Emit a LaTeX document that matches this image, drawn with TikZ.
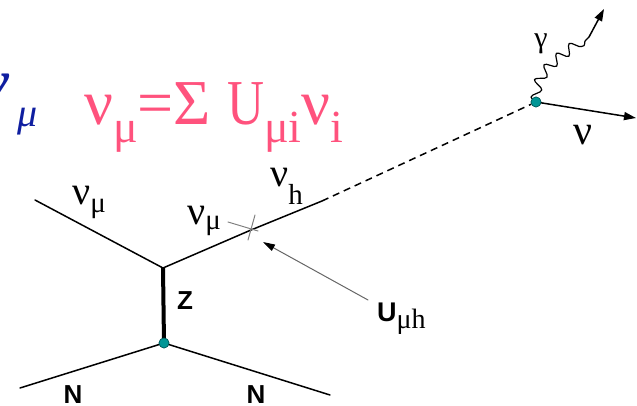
\documentclass[tikz,border=0pt]{standalone}
\usepackage{fontspec}
\usepackage{graphicx}
\setmainfont{Liberation Serif}
\setsansfont{Liberation Sans}
\usetikzlibrary{arrows.meta,decorations.pathmorphing}
\definecolor{Pink}{RGB}{255,82,125}
\definecolor{Navy}{RGB}{15,30,160}
\definecolor{Teal}{RGB}{0,150,150}
\definecolor{TealEdge}{RGB}{0,90,90}
\newcommand\fsz[1]{\fontsize{#1}{#1}\selectfont}
\newcommand\lowsub[3]{\raisebox{-#1pt}{\fsz{#2}#3}}

\begin{document}
\begin{tikzpicture}[x=1pt,y=-1pt,line cap=round,line join=round,
  fline/.style={line width=1.5pt},
  zline/.style={line width=4pt,line cap=butt},
  hline/.style={line width=1.5pt,dash pattern=on 7pt off 5pt,line cap=butt},
  xmark/.style={line width=1pt,gray},
  vdot/.style={circle,draw=TealEdge,fill=Teal,line width=0.6pt,minimum size=10pt,inner sep=0pt},
  lab/.style={font=\fsz{40},inner sep=0pt},
  slab/.style={font=\sffamily\bfseries\fsz{26},inner sep=0pt},
  tip/.style={-{Triangle[length=12pt,width=8pt]}},
  photon/.style={line width=1.2pt,decorate,decoration={snake,amplitude=5pt,segment length=16pt}}]
\path[use as bounding box] (0,0) rectangle (637,406);

% heading
\node[anchor=base east,inner sep=0pt,text=Navy,font=\itshape\bfseries\fsz{60}] (nublue) at (9,102) {ν};
\node[anchor=base west,inner sep=0pt,text=Navy,font=\itshape\fsz{40}] (mublue) at (17,127) {μ};
\node[anchor=base west,inner sep=0pt,text=Pink,font=\fsz{64}] (mix) at (84,125)
  {ν\lowsub{18}{46}{μ}=Σ \scalebox{0.8}[1]{U}\lowsub{18}{46}{μi}ν\lowsub{18}{46}{i}};

% points
\coordinate (nuin) at (35,200);
\coordinate (v1) at (163,268);
\coordinate (cross) at (251,230);
\coordinate (nuh) at (322,201);
\coordinate (nin) at (20,388);
\coordinate (nout) at (330,395);
\coordinate (gend) at (589,37);
\coordinate (gtip) at (604,9);
\coordinate (nutip) at (636,118);
\coordinate (ufrom) at (368,300);
\coordinate (uto) at (263,242);
\node[vdot] (v3) at (164,343) {};
\node[vdot] (v2) at (536,102) {};

% lines
\draw[fline] (nuin) -- (v1) -- (cross) -- (nuh);
\draw[hline] (nuh) -- (v2);
\draw[zline] (v1) -- (v3.center);
\draw[fline] (nin) -- (v3.center) -- (nout);
\draw[xmark] (228,222) -- (258,231);
\draw[xmark] (248,240) -- (255,215);
\draw[line width=1pt,gray!80!black,-{Triangle[length=12pt,width=7pt,color=black]}] (ufrom) -- (uto);
\draw[photon] (v2.center) to[out=90,in=225] (gend);
\draw[fline,tip] (gend) -- (gtip);
\draw[fline,tip] (v2.center) -- (nutip);
\node[vdot] at (v3) {};
\node[vdot] at (v2) {};

% labels
\node[lab,anchor=base west] (lnuin) at (72,205) {ν\lowsub{7}{29}{μ}};
\node[lab,anchor=base west] (lnumid) at (187,225) {ν\lowsub{5}{29}{μ}};
\node[lab,anchor=base west] (lnuh) at (270,187) {ν\lowsub{18}{29}{h}};
\node[font=\fsz{30},inner sep=0pt] (lgam) at (541,44) {γ};
\node[font=\fsz{42},inner sep=0pt,anchor=base west] (lnuout) at (573,145) {ν};
\node[slab] (lz) at (185,301) {Z};
\node[slab,anchor=base] (lnl) at (73,403) {N};
\node[slab,anchor=base] (lnr) at (256,403) {N};
\node[anchor=base west,inner sep=0pt] (lu) at (377,321) {{\sffamily\bfseries\fsz{27}U}\lowsub{7}{28}{μh}};
\end{tikzpicture}
\end{document}
